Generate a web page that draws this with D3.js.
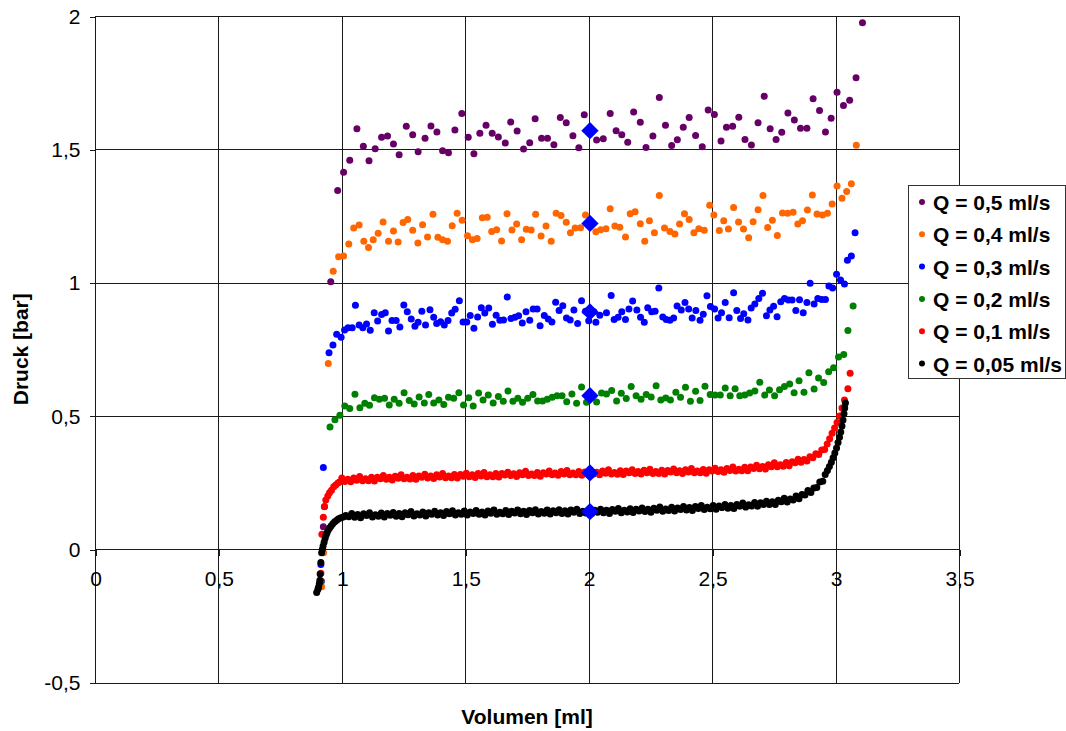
<!DOCTYPE html>
<html><head><meta charset="utf-8">
<script src="https://cdn.jsdelivr.net/npm/d3@7"></script>
<style>body{margin:0;background:#fff}svg{display:block}text{font-family:"Liberation Sans",Arial,sans-serif}</style>
</head><body><svg id="c" width="1066" height="731"></svg>
<script>
const xTicks=[0,0.5,1,1.5,2,2.5,3,3.5];
const xTickLabels=["0","0,5","1","1,5","2","2,5","3","3,5"];
const yTicks=[-0.5,0,0.5,1,1.5,2];
const yTickLabels=["-0,5","0","0,5","1","1,5","2"];
const seriesNames=["Q = 0,5 ml/s","Q = 0,4 ml/s","Q = 0,3 ml/s","Q = 0,2 ml/s","Q = 0,1 ml/s","Q = 0,05 ml/s"];
const seriesColors=["#660066","#ff6600","#0000ff","#008000","#ff0000","#000000"];

const q05=[[0.917,-0.12],[0.925,0.084],[0.955,1.003],[0.983,1.345],[1.007,1.414],[1.032,1.459],[1.061,1.577],[1.087,1.511],[1.110,1.457],[1.135,1.502],[1.161,1.545],[1.185,1.550],[1.209,1.520],[1.232,1.480],[1.261,1.586],[1.287,1.555],[1.309,1.491],[1.337,1.541],[1.361,1.587],[1.385,1.565],[1.408,1.495],[1.432,1.487],[1.458,1.572],[1.486,1.634],[1.512,1.545],[1.535,1.483],[1.559,1.560],[1.584,1.590],[1.609,1.560],[1.634,1.546],[1.662,1.524],[1.684,1.602],[1.710,1.569],[1.736,1.501],[1.761,1.525],[1.783,1.615],[1.809,1.541],[1.833,1.541],[1.859,1.517],[1.885,1.619],[1.909,1.600],[1.936,1.551],[1.960,1.506],[1.982,1.630],[2.032,1.535],[2.059,1.540],[2.087,1.634],[2.111,1.570],[2.134,1.555],[2.158,1.526],[2.182,1.640],[2.209,1.601],[2.232,1.507],[2.260,1.550],[2.286,1.694],[2.311,1.590],[2.336,1.514],[2.359,1.536],[2.383,1.583],[2.407,1.619],[2.433,1.552],[2.460,1.510],[2.484,1.647],[2.509,1.631],[2.536,1.531],[2.558,1.583],[2.583,1.586],[2.608,1.620],[2.633,1.537],[2.659,1.516],[2.686,1.600],[2.711,1.699],[2.735,1.577],[2.759,1.537],[2.782,1.564],[2.807,1.636],[2.833,1.610],[2.858,1.579],[2.884,1.579],[2.909,1.690],[2.935,1.646],[2.959,1.565],[2.982,1.616],[3.006,1.714],[3.032,1.664],[3.057,1.684],[3.083,1.768],[3.109,1.975]];

const q04=[[0.918,-0.141],[0.926,-0.013],[0.945,0.697],[0.965,1.043],[0.987,1.097],[1.007,1.100],[1.028,1.145],[1.048,1.205],[1.070,1.216],[1.089,1.155],[1.108,1.132],[1.127,1.161],[1.147,1.185],[1.167,1.227],[1.189,1.155],[1.209,1.194],[1.228,1.152],[1.248,1.225],[1.267,1.237],[1.287,1.196],[1.308,1.149],[1.327,1.217],[1.347,1.171],[1.369,1.256],[1.389,1.170],[1.408,1.161],[1.428,1.155],[1.447,1.213],[1.467,1.260],[1.487,1.234],[1.509,1.176],[1.529,1.161],[1.548,1.165],[1.569,1.243],[1.589,1.245],[1.607,1.192],[1.627,1.198],[1.647,1.156],[1.669,1.258],[1.689,1.197],[1.708,1.220],[1.728,1.161],[1.747,1.200],[1.767,1.197],[1.785,1.256],[1.807,1.175],[1.827,1.212],[1.848,1.155],[1.868,1.260],[1.888,1.252],[1.909,1.226],[1.926,1.187],[1.945,1.205],[1.967,1.206],[1.987,1.254],[2.029,1.191],[2.048,1.198],[2.070,1.202],[2.087,1.277],[2.106,1.212],[2.126,1.208],[2.149,1.171],[2.168,1.258],[2.188,1.266],[2.209,1.221],[2.227,1.155],[2.246,1.232],[2.266,1.187],[2.286,1.327],[2.307,1.205],[2.329,1.192],[2.349,1.182],[2.368,1.220],[2.388,1.258],[2.407,1.237],[2.426,1.187],[2.446,1.202],[2.468,1.196],[2.490,1.290],[2.507,1.254],[2.529,1.195],[2.547,1.232],[2.566,1.201],[2.587,1.282],[2.607,1.227],[2.627,1.201],[2.648,1.168],[2.666,1.228],[2.686,1.273],[2.706,1.327],[2.725,1.207],[2.744,1.234],[2.764,1.177],[2.785,1.261],[2.806,1.260],[2.828,1.264],[2.847,1.220],[2.866,1.232],[2.886,1.272],[2.906,1.329],[2.925,1.257],[2.947,1.254],[2.967,1.260],[2.986,1.295],[3.006,1.362],[3.026,1.316],[3.045,1.342],[3.064,1.371],[3.084,1.515]];

const q03=[[0.915,-0.057],[0.925,0.306],[0.948,0.737],[0.964,0.766],[0.979,0.806],[0.997,0.795],[1.011,0.822],[1.025,0.831],[1.042,0.831],[1.055,0.915],[1.070,0.841],[1.085,0.831],[1.100,0.845],[1.115,0.821],[1.131,0.887],[1.145,0.856],[1.161,0.880],[1.176,0.887],[1.189,0.818],[1.203,0.858],[1.220,0.858],[1.235,0.833],[1.251,0.916],[1.265,0.891],[1.281,0.863],[1.296,0.836],[1.309,0.851],[1.324,0.893],[1.339,0.841],[1.357,0.898],[1.372,0.870],[1.384,0.847],[1.400,0.853],[1.415,0.841],[1.430,0.858],[1.445,0.886],[1.459,0.900],[1.476,0.932],[1.491,0.852],[1.506,0.852],[1.520,0.877],[1.535,0.829],[1.550,0.871],[1.565,0.906],[1.579,0.886],[1.595,0.905],[1.610,0.844],[1.625,0.878],[1.640,0.859],[1.655,0.860],[1.670,0.946],[1.685,0.865],[1.701,0.870],[1.716,0.876],[1.731,0.848],[1.746,0.891],[1.761,0.859],[1.775,0.901],[1.791,0.901],[1.803,0.838],[1.820,0.877],[1.836,0.863],[1.851,0.852],[1.866,0.926],[1.880,0.895],[1.895,0.913],[1.910,0.867],[1.925,0.860],[1.940,0.897],[1.955,0.847],[1.971,0.932],[1.987,0.893],[2.000,0.857],[2.021,0.891],[2.029,0.851],[2.045,0.878],[2.072,0.887],[2.091,0.952],[2.103,0.862],[2.119,0.870],[2.134,0.891],[2.149,0.862],[2.163,0.901],[2.178,0.931],[2.195,0.897],[2.210,0.870],[2.225,0.851],[2.239,0.906],[2.255,0.891],[2.269,0.893],[2.284,0.980],[2.300,0.871],[2.314,0.862],[2.329,0.859],[2.344,0.867],[2.358,0.912],[2.375,0.897],[2.390,0.925],[2.405,0.901],[2.419,0.867],[2.434,0.895],[2.451,0.859],[2.464,0.881],[2.479,0.951],[2.493,0.910],[2.510,0.901],[2.524,0.867],[2.538,0.887],[2.553,0.925],[2.569,0.868],[2.587,0.962],[2.600,0.895],[2.615,0.865],[2.628,0.883],[2.645,0.860],[2.658,0.905],[2.673,0.920],[2.689,0.940],[2.704,0.960],[2.720,0.876],[2.734,0.897],[2.749,0.911],[2.763,0.872],[2.778,0.928],[2.793,0.940],[2.809,0.935],[2.824,0.935],[2.839,0.895],[2.854,0.936],[2.869,0.887],[2.884,0.925],[2.897,0.998],[2.913,0.920],[2.928,0.940],[2.944,0.937],[2.959,0.937],[2.973,0.987],[2.988,0.980],[3.004,1.031],[3.020,1.010],[3.036,0.995],[3.048,1.084],[3.064,1.100],[3.079,1.187]];

const q02=[[0.915,-0.122],[0.929,0.159],[0.952,0.458],[0.972,0.486],[0.992,0.502],[1.012,0.537],[1.032,0.528],[1.053,0.581],[1.073,0.531],[1.093,0.547],[1.112,0.540],[1.132,0.568],[1.152,0.562],[1.173,0.566],[1.192,0.541],[1.212,0.562],[1.232,0.547],[1.252,0.587],[1.273,0.558],[1.293,0.545],[1.313,0.571],[1.334,0.548],[1.352,0.580],[1.372,0.548],[1.393,0.560],[1.413,0.543],[1.432,0.570],[1.453,0.566],[1.474,0.587],[1.493,0.541],[1.514,0.568],[1.532,0.537],[1.554,0.586],[1.572,0.560],[1.593,0.578],[1.613,0.548],[1.634,0.573],[1.654,0.555],[1.673,0.593],[1.693,0.555],[1.713,0.566],[1.732,0.551],[1.753,0.566],[1.774,0.580],[1.793,0.556],[1.813,0.556],[1.832,0.562],[1.852,0.570],[1.872,0.576],[1.892,0.576],[1.911,0.553],[1.932,0.582],[1.951,0.547],[1.971,0.608],[1.991,0.551],[2.032,0.552],[2.052,0.586],[2.072,0.582],[2.093,0.595],[2.113,0.556],[2.132,0.585],[2.152,0.565],[2.172,0.610],[2.192,0.576],[2.212,0.562],[2.233,0.580],[2.253,0.571],[2.273,0.613],[2.292,0.560],[2.312,0.567],[2.331,0.560],[2.353,0.589],[2.372,0.570],[2.392,0.607],[2.412,0.555],[2.433,0.592],[2.451,0.558],[2.471,0.611],[2.492,0.580],[2.512,0.578],[2.533,0.578],[2.553,0.605],[2.573,0.576],[2.593,0.602],[2.612,0.576],[2.632,0.578],[2.652,0.586],[2.673,0.593],[2.693,0.626],[2.713,0.578],[2.732,0.597],[2.753,0.576],[2.773,0.598],[2.793,0.610],[2.814,0.620],[2.832,0.587],[2.852,0.632],[2.872,0.589],[2.892,0.662],[2.913,0.601],[2.931,0.642],[2.952,0.625],[2.972,0.666],[2.992,0.681],[3.012,0.721],[3.033,0.730],[3.050,0.820],[3.071,0.912]];

const q01=[[0.915,-0.09],[0.919,0.056],[0.925,0.12],[0.930,0.16],[0.935,0.185],[0.943,0.200],[0.950,0.212],[0.958,0.221],[0.967,0.234],[0.975,0.241],[0.984,0.248],[0.992,0.253],[1.000,0.267],[1.012,0.254],[1.024,0.262],[1.036,0.253],[1.048,0.267],[1.060,0.259],[1.072,0.273],[1.084,0.257],[1.096,0.264],[1.108,0.257],[1.120,0.270],[1.132,0.256],[1.144,0.270],[1.156,0.264],[1.168,0.276],[1.180,0.262],[1.192,0.270],[1.204,0.260],[1.216,0.274],[1.228,0.266],[1.240,0.279],[1.252,0.264],[1.264,0.270],[1.276,0.263],[1.288,0.276],[1.300,0.262],[1.312,0.275],[1.324,0.270],[1.336,0.281],[1.348,0.267],[1.360,0.275],[1.372,0.265],[1.384,0.279],[1.396,0.271],[1.408,0.284],[1.420,0.268],[1.432,0.275],[1.444,0.268],[1.456,0.280],[1.468,0.267],[1.480,0.280],[1.492,0.274],[1.504,0.285],[1.516,0.272],[1.528,0.279],[1.540,0.269],[1.552,0.284],[1.564,0.275],[1.576,0.288],[1.588,0.272],[1.600,0.279],[1.612,0.272],[1.624,0.284],[1.636,0.271],[1.648,0.284],[1.660,0.278],[1.672,0.289],[1.684,0.276],[1.696,0.283],[1.708,0.273],[1.720,0.287],[1.732,0.279],[1.744,0.292],[1.756,0.276],[1.768,0.282],[1.780,0.276],[1.792,0.288],[1.804,0.274],[1.816,0.287],[1.828,0.282],[1.840,0.293],[1.852,0.279],[1.864,0.286],[1.876,0.277],[1.888,0.291],[1.900,0.282],[1.912,0.295],[1.924,0.279],[1.936,0.286],[1.948,0.279],[1.960,0.291],[1.972,0.277],[1.984,0.290],[1.996,0.284],[2.008,0.296],[2.020,0.282],[2.032,0.289],[2.044,0.279],[2.056,0.293],[2.068,0.285],[2.080,0.298],[2.092,0.282],[2.104,0.288],[2.116,0.281],[2.128,0.294],[2.140,0.280],[2.152,0.293],[2.164,0.287],[2.176,0.298],[2.188,0.284],[2.200,0.291],[2.212,0.282],[2.224,0.296],[2.236,0.287],[2.248,0.300],[2.260,0.284],[2.272,0.291],[2.284,0.284],[2.296,0.296],[2.308,0.282],[2.320,0.295],[2.332,0.290],[2.344,0.301],[2.356,0.287],[2.368,0.294],[2.380,0.284],[2.392,0.298],[2.404,0.290],[2.416,0.303],[2.428,0.287],[2.440,0.293],[2.452,0.287],[2.464,0.299],[2.476,0.285],[2.488,0.298],[2.500,0.293],[2.512,0.304],[2.524,0.291],[2.536,0.298],[2.548,0.289],[2.560,0.303],[2.572,0.295],[2.584,0.308],[2.596,0.293],[2.608,0.300],[2.620,0.294],[2.632,0.307],[2.644,0.294],[2.656,0.308],[2.668,0.303],[2.680,0.315],[2.692,0.302],[2.704,0.310],[2.716,0.301],[2.728,0.317],[2.740,0.309],[2.752,0.324],[2.764,0.309],[2.776,0.317],[2.788,0.311],[2.800,0.325],[2.812,0.313],[2.824,0.328],[2.836,0.324],[2.848,0.337],[2.860,0.326],[2.872,0.336],[2.884,0.331],[2.896,0.347],[2.908,0.343],[2.920,0.358],[2.932,0.355],[2.944,0.372],[2.956,0.374],[2.966,0.395],[2.976,0.414],[2.986,0.435],[2.996,0.455],[3.006,0.475],[3.016,0.500],[3.026,0.530],[3.036,0.560],[3.050,0.602],[3.059,0.660]];

const q005=[[0.898,-0.162],[0.903,-0.150],[0.906,-0.141],[0.909,-0.128],[0.911,-0.116],[0.912,-0.093],[0.915,-0.050],[0.918,-0.013],[0.921,0.000],[0.924,0.012],[0.928,0.026],[0.932,0.040],[0.936,0.052],[0.940,0.062],[0.945,0.072],[0.951,0.080],[0.957,0.088],[0.964,0.096],[0.971,0.103],[0.979,0.109],[0.987,0.114],[0.996,0.118],[1.006,0.121],[1.016,0.126],[1.028,0.122],[1.040,0.134],[1.052,0.120],[1.064,0.130],[1.076,0.118],[1.088,0.133],[1.100,0.126],[1.112,0.137],[1.124,0.121],[1.136,0.129],[1.148,0.124],[1.160,0.136],[1.172,0.121],[1.184,0.134],[1.196,0.127],[1.208,0.138],[1.220,0.124],[1.232,0.134],[1.244,0.122],[1.256,0.137],[1.268,0.129],[1.280,0.141],[1.292,0.125],[1.304,0.133],[1.316,0.128],[1.328,0.140],[1.340,0.125],[1.352,0.137],[1.364,0.131],[1.376,0.142],[1.388,0.128],[1.400,0.137],[1.412,0.126],[1.424,0.141],[1.436,0.133],[1.448,0.144],[1.460,0.128],[1.472,0.137],[1.484,0.131],[1.496,0.143],[1.508,0.128],[1.520,0.140],[1.532,0.134],[1.544,0.145],[1.556,0.131],[1.568,0.140],[1.580,0.128],[1.592,0.143],[1.604,0.135],[1.616,0.147],[1.628,0.131],[1.640,0.139],[1.652,0.133],[1.664,0.145],[1.676,0.130],[1.688,0.142],[1.700,0.136],[1.712,0.147],[1.724,0.133],[1.736,0.142],[1.748,0.130],[1.760,0.145],[1.772,0.137],[1.784,0.148],[1.796,0.132],[1.808,0.141],[1.820,0.135],[1.832,0.147],[1.844,0.132],[1.856,0.144],[1.868,0.137],[1.880,0.148],[1.892,0.134],[1.904,0.144],[1.916,0.132],[1.928,0.147],[1.940,0.139],[1.952,0.150],[1.964,0.134],[1.976,0.142],[1.988,0.136],[2.000,0.148],[2.012,0.134],[2.024,0.146],[2.036,0.139],[2.048,0.150],[2.060,0.137],[2.072,0.146],[2.084,0.134],[2.096,0.149],[2.108,0.142],[2.120,0.153],[2.132,0.137],[2.144,0.146],[2.156,0.140],[2.168,0.152],[2.180,0.138],[2.192,0.150],[2.204,0.143],[2.216,0.155],[2.228,0.141],[2.240,0.150],[2.252,0.139],[2.264,0.154],[2.276,0.146],[2.288,0.158],[2.300,0.142],[2.312,0.151],[2.324,0.145],[2.336,0.157],[2.348,0.143],[2.360,0.155],[2.372,0.149],[2.384,0.160],[2.396,0.147],[2.408,0.156],[2.420,0.145],[2.432,0.160],[2.444,0.153],[2.456,0.164],[2.468,0.149],[2.480,0.157],[2.492,0.152],[2.504,0.164],[2.516,0.150],[2.528,0.162],[2.540,0.156],[2.552,0.168],[2.564,0.154],[2.576,0.164],[2.588,0.153],[2.600,0.168],[2.612,0.161],[2.624,0.173],[2.636,0.158],[2.648,0.167],[2.660,0.162],[2.672,0.175],[2.684,0.161],[2.696,0.174],[2.708,0.168],[2.720,0.180],[2.732,0.168],[2.744,0.178],[2.756,0.168],[2.768,0.184],[2.780,0.178],[2.792,0.191],[2.804,0.177],[2.816,0.188],[2.828,0.185],[2.840,0.200],[2.852,0.189],[2.864,0.205],[2.876,0.203],[2.888,0.220],[2.900,0.213],[2.912,0.230],[2.924,0.231],[2.936,0.252],[2.948,0.255],[2.958,0.280],[2.967,0.295],[2.975,0.310],[2.983,0.326],[2.990,0.343],[2.997,0.361],[3.004,0.380],[3.010,0.400],[3.016,0.420],[3.021,0.440],[3.026,0.462],[3.030,0.485],[3.034,0.508],[3.037,0.530],[3.040,0.548]];

const meanX=[2.005,2.005,2.005,2.005,2.005,2.005];
const meanY=[1.570,1.222,0.890,0.576,0.286,0.141];

const allSeries=[q05,q04,q03,q02,q01,q005];

const svg=d3.select("#c");
svg.append("rect").attr("width",1066).attr("height",731).attr("fill","#fff");
const x=d3.scaleLinear().domain([0,3.5]).range([95,959]);
const y=d3.scaleLinear().domain([-0.5,2]).range([682.5,16]);
const gridColor="#1a1a1a";

const grid=svg.append("g").attr("shape-rendering","crispEdges").attr("stroke",gridColor).attr("stroke-width",1);
grid.selectAll("line.h").data(yTicks).join("line").attr("class","h")
  .attr("x1",x(0)).attr("x2",x(3.5)).attr("y1",d=>Math.round(y(d))+0.5).attr("y2",d=>Math.round(y(d))+0.5);
grid.selectAll("line.v").data(xTicks).join("line").attr("class","v")
  .attr("y1",y(2)).attr("y2",y(-0.5)).attr("x1",d=>Math.round(x(d))+0.5).attr("x2",d=>Math.round(x(d))+0.5);

const yAxis=svg.append("g").attr("transform",`translate(${Math.round(x(0))+0.5},0.5)`)
  .call(d3.axisLeft(y).tickValues(yTicks).tickFormat((d,i)=>yTickLabels[i]).tickSize(6).tickPadding(9));
const xAxis=svg.append("g").attr("transform",`translate(0.5,${Math.round(y(0))+0.5})`)
  .call(d3.axisBottom(x).tickValues(xTicks).tickFormat((d,i)=>xTickLabels[i]).tickSize(6).tickPadding(16));
[yAxis,xAxis].forEach(a=>{
  a.select(".domain").remove();
  a.selectAll("line").attr("stroke",gridColor).attr("shape-rendering","crispEdges");
  a.selectAll("text").attr("font-size",21).attr("fill","#000").attr("font-family","'Liberation Sans',Arial,sans-serif");
});

allSeries.forEach((s,i)=>{
  svg.append("g").selectAll("circle").data(s).join("circle")
    .attr("cx",d=>x(d[0])).attr("cy",d=>y(d[1])).attr("r",3.5).attr("fill",seriesColors[i]);
});
const diamond=d3.symbol().type(d3.symbolSquare).size(150);
svg.append("g").selectAll("path").data(meanY).join("path")
  .attr("d",diamond).attr("fill","#0000ff")
  .attr("transform",(d,i)=>`translate(${x(meanX[i])},${y(d)}) rotate(45)`);

svg.append("text").attr("x",(x(0)+x(3.5))/2).attr("y",724).attr("text-anchor","middle")
  .attr("font-size",21).attr("font-weight","bold").text("Volumen [ml]");
svg.append("text").attr("transform",`translate(28,${(y(2)+y(-0.5))/2}) rotate(-90)`).attr("text-anchor","middle")
  .attr("font-size",21).attr("font-weight","bold").text("Druck [bar]");

const lg=svg.append("g");
lg.append("rect").attr("x",908.5).attr("y",185.5).attr("width",157).attr("height",193)
  .attr("fill","#fff").attr("stroke","#333").attr("stroke-width",1);
const rows=lg.selectAll("g.row").data(seriesNames).join("g").attr("class","row")
  .attr("transform",(d,i)=>`translate(0,${202+i*32.3})`);
rows.append("circle").attr("cx",922).attr("cy",0).attr("r",3).attr("fill",(d,i)=>seriesColors[i]);
rows.append("text").attr("x",933).attr("y",8).attr("font-size",21).attr("font-weight","bold").text(d=>d);
</script></body></html>
